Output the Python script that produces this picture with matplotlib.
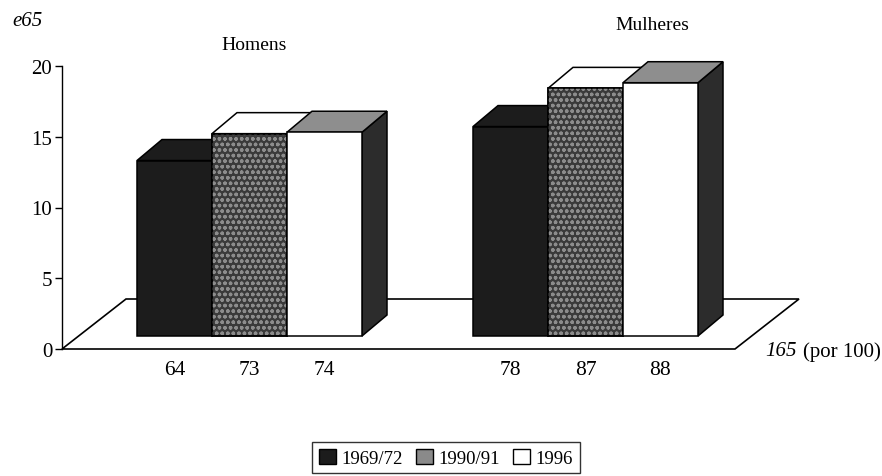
import matplotlib
matplotlib.use("Agg")
import matplotlib.pyplot as plt
from matplotlib.patches import Polygon, Patch

plt.rcParams['font.family'] = ['Liberation Serif', 'DejaVu Serif']

# data
groups = ['Homens', 'Mulheres']
series = ['1969/72', '1990/91', '1996']
e65 = [[12.4, 14.3, 14.4],
       [14.8, 17.5, 17.9]]
i65_labels = [['64', '73', '74'],
              ['78', '87', '88']]

# styling of the pseudo 3d boxes
front_col = ['#1c1c1c', '#3a3a3a', 'white']
top_col = ['#1c1c1c', 'white', '#8e8e8e']
side_col = ['#1c1c1c', '#3a3a3a', '#2c2c2c']
legend_col = ['#1c1c1c', '#8a8a8a', 'white']

W, H, DPI = 882, 477, 100
px_per_unit = 283 / 20.0

fig = plt.figure(figsize=(W / DPI, H / DPI), dpi=DPI)
ax = fig.add_axes([62 / W, (H - 350) / H, 738 / W, 283 / H])
ax.set_xlim(0, 738)
ax.set_ylim(0, 20)

# layout (x in pixels from the y axis, y in value units)
group_start = [75, 411]
bar_w = 75
base = 13 / px_per_unit
ddx, ddy = 25, 21 / px_per_unit
floor_len = 673
floor_dx, floor_dy = 64, 50 / px_per_unit

floor = Polygon([(0, 0), (floor_len, 0), (floor_len + floor_dx, floor_dy),
                 (floor_dx, floor_dy)], closed=True, facecolor='white',
                edgecolor='black', lw=1.2, zorder=1, clip_on=False)
ax.add_patch(floor)

centers, labels = [], []
z = 2
for g, vals in enumerate(e65):
    for s, v in enumerate(vals):
        x0 = group_start[g] + s * bar_w
        top = base + v
        front = [(x0, base), (x0 + bar_w, base), (x0 + bar_w, top), (x0, top)]
        topf = [(x0, top), (x0 + bar_w, top), (x0 + bar_w + ddx, top + ddy),
                (x0 + ddx, top + ddy)]
        side = [(x0 + bar_w, base), (x0 + bar_w + ddx, base + ddy),
                (x0 + bar_w + ddx, top + ddy), (x0 + bar_w, top)]
        for pts, fc in [(side, side_col[s]), (topf, top_col[s]), (front, front_col[s])]:
            ax.add_patch(Polygon(pts, closed=True, facecolor=fc, edgecolor='black',
                                 lw=1.1, zorder=z, clip_on=False))
            z += 1
        if s == 1:
            # speckled texture on the 1990/91 face
            ax.add_patch(Polygon(front, closed=True, facecolor='none',
                                 edgecolor='#8c8c8c', hatch='ooo', lw=0,
                                 zorder=z, clip_on=False))
            ax.add_patch(Polygon(front, closed=True, fill=False, edgecolor='black',
                                 lw=1.1, zorder=z + 1, clip_on=False))
            z += 2
        centers.append(x0 + bar_w / 2)
        labels.append(i65_labels[g][s])

ax.set_xticks(centers)
ax.set_xticklabels(labels, fontsize=15.5)
ax.tick_params(axis='x', length=0, pad=8)
ax.set_yticks([0, 5, 10, 15, 20])
ax.tick_params(axis='y', direction='out', length=5, width=1, pad=2, labelsize=15)
for sp in ['top', 'right', 'bottom']:
    ax.spines[sp].set_visible(False)
ax.spines['left'].set_linewidth(1)
ax.patch.set_visible(False)

fig.text(12 / W, 1 - 21 / H, 'e65', fontsize=15, style='italic', va='center')
fig.text(254 / W, 1 - 45 / H, groups[0], fontsize=14, ha='center', va='center')
fig.text(652 / W, 1 - 25 / H, groups[1], fontsize=14, ha='center', va='center')
fig.text(765 / W, 1 - 352 / H, '165', fontsize=15, style='italic', va='center')
fig.text(803 / W, 1 - 352 / H, '(por 100)', fontsize=15, va='center')

handles = [Patch(facecolor=c, edgecolor='black', lw=1) for c in legend_col]
leg = fig.legend(handles, series, loc='upper center', bbox_to_anchor=(446 / W, 1 - 443 / H),
                 ncol=3, fontsize=13.5, frameon=True, fancybox=False, edgecolor='black',
                 handlelength=0.9, handleheight=0.9, handletextpad=0.3,
                 columnspacing=0.7, borderpad=0.35, borderaxespad=0)
leg.get_frame().set_linewidth(1)

fig.savefig('out.png', dpi=DPI)
